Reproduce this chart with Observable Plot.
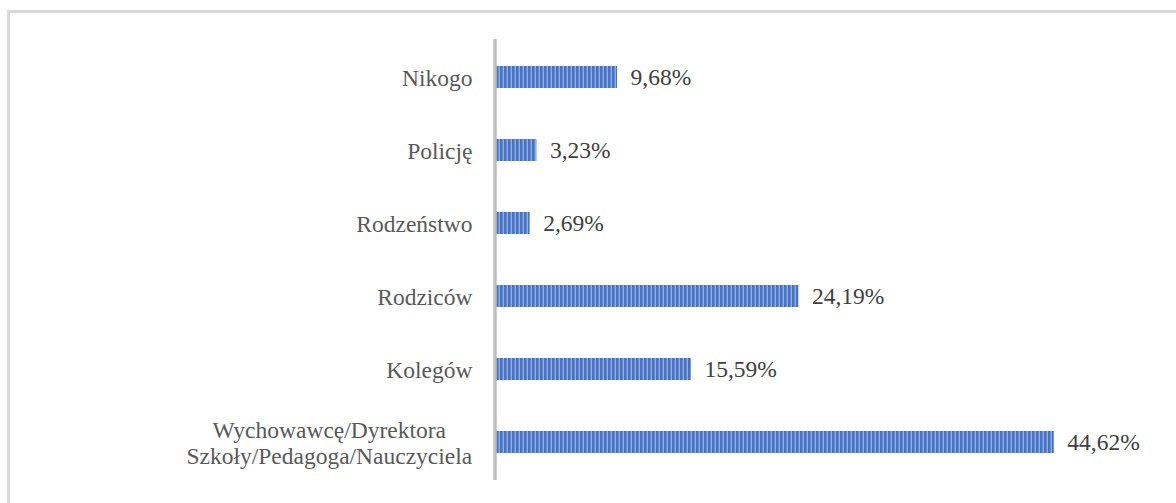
<!DOCTYPE html>
<html>
<head>
<meta charset="utf-8">
<script src="https://cdn.jsdelivr.net/npm/d3@7"></script>
<script src="https://cdn.jsdelivr.net/npm/@observablehq/plot@0.6"></script>
<style>
  html, body { margin: 0; padding: 0; background: #fff; }
  #wrap { position: relative; width: 1176px; height: 503px; overflow: hidden; }
  #frame { position: absolute; left: 7px; top: 10px; width: 1300px; height: 700px;
           border: 3px solid #d9d9d9; box-sizing: border-box; }
  #chart { position: absolute; left: 0; top: 0; }
</style>
</head>
<body>
<div id="wrap"><div id="frame"></div><div id="chart"></div></div>
<script>
const categories = [
  "Nikogo",
  "Policję",
  "Rodzeństwo",
  "Rodziców",
  "Kolegów",
  "Wychowawcę/Dyrektora\nSzkoły/Pedagoga/Nauczyciela"
];
const values = [9.68, 3.23, 2.69, 24.19, 15.59, 44.62];

const data = categories.map((c, i) => ({category: c, value: values[i]}));
const fmt = v => v.toFixed(2).replace(".", ",") + "%";
const serif = "'Liberation Serif', 'Times New Roman', serif";

const chart = Plot.plot({
  width: 1176,
  height: 503,
  marginLeft: 496,
  marginRight: 55,
  marginTop: 39,
  marginBottom: 23,
  style: {fontFamily: serif, fontSize: "23.5px", background: "transparent"},
  x: {domain: [0, 50], axis: null},
  y: {domain: categories, paddingInner: 0.7, paddingOuter: 0.35, label: null},
  marks: [
    Plot.barX(data, {x: "value", y: "category", fill: "url(#stripes)"}),
    Plot.ruleX([0], {stroke: "#bfbfbf", strokeWidth: 3.5, dx: -1.5}),
    Plot.axisY({tickSize: 0, tickPadding: 24, fontSize: 23.5, color: "#595959", lineHeight: 1.1, label: null}),
    Plot.text(data, {x: "value", y: "category", text: d => fmt(d.value), textAnchor: "start", dx: 13, fill: "#404040", fontSize: 23.5})
  ]
});

// striped fill pattern
const ns = "http://www.w3.org/2000/svg";
const defs = document.createElementNS(ns, "defs");
defs.innerHTML = `<pattern id="stripes" patternUnits="userSpaceOnUse" x="0" y="0" width="4" height="10">
  <rect x="0" y="0" width="4" height="10" fill="#4472c4"/>
  <rect x="2.5" y="0" width="1.5" height="10" fill="#8eaadf"/>
</pattern>`;
chart.insertBefore(defs, chart.firstChild);

document.getElementById("chart").appendChild(chart);

// center multi-line tick labels on each other
chart.querySelectorAll("g[aria-label='y-axis tick label'] text").forEach(t => {
  const tsp = t.querySelectorAll("tspan");
  if (tsp.length > 1) {
    const w = t.getBBox().width;
    t.setAttribute("text-anchor", "middle");
    tsp.forEach(s => s.setAttribute("x", -w / 2));
  }
});
</script>
</body>
</html>
